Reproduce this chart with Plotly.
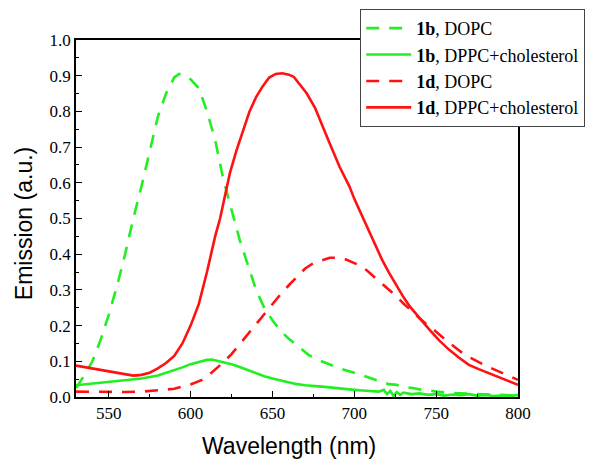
import plotly.graph_objects as go

# 1b, DOPC (green dashed)
wl_1b_dopc = [530, 535, 540, 545, 550, 555, 560, 565, 570, 575, 580, 585, 590, 593, 597, 600,
              605, 610, 615, 620, 625, 630, 635, 640, 645, 650, 655, 660, 665, 672, 680, 691,
              700, 707, 714, 721, 726, 730, 735, 740, 745, 750, 760, 770, 780, 790, 800]
em_1b_dopc = [0.025, 0.06, 0.10, 0.16, 0.23, 0.31, 0.40, 0.50, 0.59, 0.69, 0.785, 0.85, 0.895, 0.905, 0.90, 0.89,
              0.865, 0.80, 0.72, 0.61, 0.525, 0.44, 0.37, 0.30, 0.25, 0.215, 0.185, 0.163, 0.145, 0.118, 0.10, 0.08,
              0.068, 0.057, 0.046, 0.036, 0.034, 0.027, 0.026, 0.021, 0.019, 0.015, 0.011, 0.009, 0.007, 0.005, 0.004]

# 1b, DPPC+cholesterol (green solid)
wl_1b_dppc = [530, 540, 550, 560, 570, 580, 590, 595, 600, 605, 610, 613, 617, 620, 625, 630, 635, 640,
              645, 650, 655, 660, 665, 670, 675, 680, 685, 690, 695, 700, 705, 710, 715, 718, 720, 722,
              724, 726, 728, 730, 735, 740, 745, 750, 755, 760, 765, 770, 775, 780, 785, 790, 795, 800]
em_1b_dppc = [0.033, 0.038, 0.042, 0.047, 0.052, 0.06, 0.074, 0.083, 0.092, 0.099, 0.104, 0.105, 0.101, 0.098,
              0.092, 0.084, 0.075, 0.066, 0.058, 0.052, 0.046, 0.040, 0.036, 0.033, 0.030, 0.029, 0.027, 0.024,
              0.022, 0.020, 0.018, 0.017, 0.015, 0.020, 0.008, 0.017, 0.003, 0.014, 0.006, 0.012, 0.008, 0.010,
              0.006, 0.008, 0.004, 0.007, 0.005, 0.008, 0.004, 0.006, 0.003, 0.004, 0.002, 0.006]

# 1d, DOPC (red dashed)
wl_1d_dopc = [530, 540, 550, 560, 570, 580, 590, 600, 607, 612, 616, 620, 625, 630, 635, 640, 645, 650,
              655, 660, 665, 670, 675, 680, 685, 690, 695, 700, 705, 710, 715, 720, 725, 730, 735, 740,
              745, 750, 755, 760, 765, 770, 775, 780, 785, 790, 795, 800]
em_1d_dopc = [0.015, 0.014, 0.014, 0.014, 0.015, 0.018, 0.023, 0.035, 0.048, 0.065, 0.08, 0.097, 0.12, 0.148,
              0.178, 0.205, 0.235, 0.26, 0.288, 0.313, 0.338, 0.36, 0.375, 0.383, 0.39, 0.39, 0.385, 0.375,
              0.365, 0.345, 0.325, 0.305, 0.285, 0.262, 0.24, 0.22, 0.20, 0.183, 0.163, 0.145, 0.127, 0.112,
              0.099, 0.088, 0.078, 0.068, 0.057, 0.048]

# 1d, DPPC+cholesterol (red solid)
wl_1d_dppc = [530, 540, 550, 560, 565, 570, 575, 580, 585, 590, 595, 600, 605, 610, 613, 615, 618, 620,
              624, 628, 632, 636, 640, 644, 648, 652, 656, 660, 663, 667, 671, 676, 681, 685, 691, 697,
              700, 703, 707, 712, 717, 721, 725, 730, 734, 740, 746, 752, 758, 764, 770, 776, 782, 788,
              794, 800]
em_1d_dppc = [0.088, 0.08, 0.07, 0.062, 0.06, 0.062, 0.068, 0.08, 0.095, 0.115, 0.15, 0.20, 0.26, 0.35, 0.41,
              0.45, 0.50, 0.545, 0.627, 0.69, 0.748, 0.80, 0.84, 0.87, 0.895, 0.905, 0.907, 0.903, 0.897, 0.875,
              0.85, 0.81, 0.757, 0.71, 0.645, 0.59, 0.555, 0.524, 0.487, 0.435, 0.384, 0.35, 0.318, 0.28, 0.253,
              0.22, 0.188, 0.158, 0.132, 0.11, 0.09, 0.078, 0.067, 0.056, 0.044, 0.034]

x_ticks = [550, 600, 650, 700, 750, 800]
y_ticks = [0.0, 0.1, 0.2, 0.3, 0.4, 0.5, 0.6, 0.7, 0.8, 0.9, 1.0]

GREEN = "#22ee22"
RED = "#ff1111"
DASH = "13px,10px"
LW = 2.6

fig = go.Figure()
fig.add_trace(go.Scatter(x=wl_1b_dopc, y=em_1b_dopc, mode="lines", name="<b>1b</b>, DOPC",
                         line=dict(color=GREEN, width=LW, dash=DASH)))
fig.add_trace(go.Scatter(x=wl_1b_dppc, y=em_1b_dppc, mode="lines", name="<b>1b</b>, DPPC+cholesterol",
                         line=dict(color=GREEN, width=LW)))
fig.add_trace(go.Scatter(x=wl_1d_dopc, y=em_1d_dopc, mode="lines", name="<b>1d</b>, DOPC",
                         line=dict(color=RED, width=LW, dash=DASH)))
fig.add_trace(go.Scatter(x=wl_1d_dppc, y=em_1d_dppc, mode="lines", name="<b>1d</b>, DPPC+cholesterol",
                         line=dict(color=RED, width=LW)))

serif = "Liberation Serif, Times New Roman, serif"
sans = "Liberation Sans, Arial, sans-serif"
tickfont = dict(family=serif, size=17, color="black")
titlefont = dict(family=sans, size=23, color="black")

# page body has an 8px margin, so the figure is offset by 8px in the window
fig.update_layout(
    width=594, height=458,
    margin=dict(l=68, r=84, t=32, b=69, autoexpand=False),
    paper_bgcolor="white", plot_bgcolor="white",
    showlegend=True,
    legend=dict(x=0.643, y=1.087, xanchor="left", yanchor="top",
                bgcolor="white", bordercolor="#444444", borderwidth=1,
                font=dict(family=serif, size=18, color="black"),
                itemwidth=45, tracegroupgap=0),
    xaxis=dict(range=[530, 800], tickvals=x_ticks,
               ticks="inside", ticklen=6, tickwidth=1.2, tickcolor="black",
               minor=dict(dtick=25, tick0=525, ticks="inside", ticklen=3, tickcolor="black"),
               showline=True, linecolor="black", linewidth=1.5, mirror=True,
               showgrid=False, zeroline=False, tickfont=tickfont),
    yaxis=dict(range=[0, 1.0], tickvals=y_ticks, tickformat=".1f",
               ticks="inside", ticklen=6, tickwidth=1.2, tickcolor="black",
               minor=dict(dtick=0.05, ticks="inside", ticklen=3, tickcolor="black"),
               showline=True, linecolor="black", linewidth=1.5, mirror=True,
               showgrid=False, zeroline=False, tickfont=tickfont),
    annotations=[
        dict(text="Wavelength (nm)", xref="paper", yref="paper", x=0.482, y=-0.137,
             xanchor="center", yanchor="middle", showarrow=False, font=titlefont),
        dict(text="Emission (a.u.)", xref="paper", yref="paper", x=-0.117, y=0.485,
             xanchor="center", yanchor="middle", showarrow=False, textangle=-90, font=titlefont),
    ],
)

fig.write_html("out.html")
